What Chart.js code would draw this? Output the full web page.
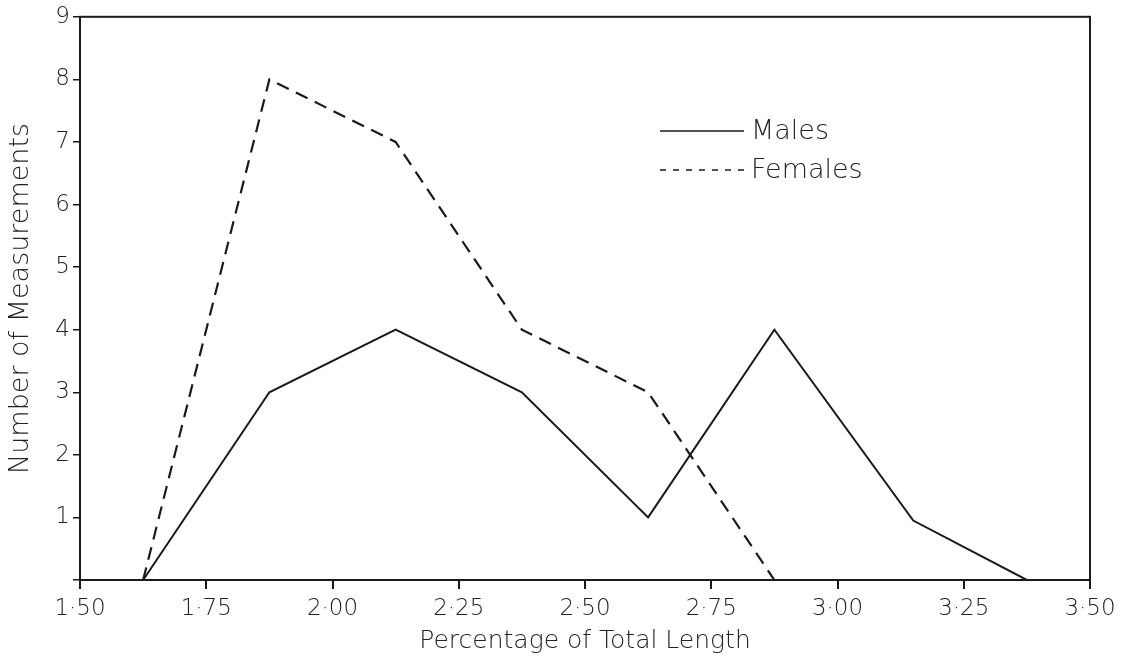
<!DOCTYPE html>
<html>
<head>
<meta charset="utf-8">
<script src="https://cdn.jsdelivr.net/npm/chart.js@4/dist/chart.umd.min.js"></script>
<style>
  html, body { margin: 0; padding: 0; background: #fff; }
  #wrap { width: 1122px; height: 665px; }
</style>
</head>
<body>
<div id="wrap"><canvas id="chart"></canvas></div>
<script>
// values
const maleX = [1.5, 1.625, 1.875, 2.125, 2.375, 2.625, 2.875, 3.15, 3.375];
const maleY = [0, 0, 3, 4, 3, 1, 4, 0.95, 0];
const femaleX = [1.5, 1.625, 1.875, 2.125, 2.375, 2.625, 2.875];
const femaleY = [0, 0, 8, 7, 4, 3, 0];
const xTickLabels = ['1·50', '1·75', '2·00', '2·25', '2·50', '2·75', '3·00', '3·25', '3·50'];
const yTickLabels = ['', '1', '2', '3', '4', '5', '6', '7', '8', '9'];

const ink = '#1a1a1a';
const textInk = '#222';
const fontFamily = '"DejaVu Sans", sans-serif';

function toPoints(xs, ys) {
    return xs.map(function (x, i) { return { x: x, y: ys[i] }; });
}

// box round the plot and the legend drawn inside it
const framePlugin = {
    id: 'frame',
    afterDraw: function (chart) {
        const ctx = chart.ctx;
        const a = chart.chartArea;
        ctx.save();
        ctx.strokeStyle = ink;
        ctx.lineWidth = 2;
        ctx.strokeRect(a.left, a.top, a.right - a.left, a.bottom - a.top);

        const items = [
            { label: 'Males', y: 131, dash: [] },
            { label: 'Females', y: 170, dash: [6, 7] }
        ];
        ctx.font = '200 27px ' + fontFamily;
        ctx.fillStyle = textInk;
        ctx.textBaseline = 'middle';
        items.forEach(function (it) {
            ctx.beginPath();
            ctx.setLineDash(it.dash);
            ctx.lineWidth = 1.6;
            ctx.moveTo(660, it.y);
            ctx.lineTo(744, it.y);
            ctx.stroke();
            ctx.setLineDash([]);
            ctx.fillText(it.label, 751, it.y + 1);
        });
        ctx.restore();
    }
};

new Chart(document.getElementById('chart'), {
    type: 'line',
    data: {
        datasets: [{
            label: 'Males',
            data: toPoints(maleX, maleY),
            borderColor: ink,
            borderWidth: 2,
            pointRadius: 0,
            tension: 0
        }, {
            label: 'Females',
            data: toPoints(femaleX, femaleY),
            borderColor: ink,
            borderWidth: 2.2,
            borderDash: [13, 8],
            pointRadius: 0,
            tension: 0
        }]
    },
    options: {
        responsive: true,
        maintainAspectRatio: false,
        animation: false,
        layout: { padding: { top: 13, right: 32, left: 0, bottom: 0 } },
        plugins: {
            legend: { display: false },
            tooltip: { enabled: false }
        },
        scales: {
            x: {
                type: 'linear',
                min: 1.5,
                max: 3.5,
                afterFit: function (scale) { scale.height = 85; },
                ticks: {
                    stepSize: 0.25,
                    color: textInk,
                    padding: 6,
                    font: { family: fontFamily, size: 23, weight: '200' },
                    callback: function (value) {
                        return xTickLabels[Math.round((value - 1.5) / 0.25)];
                    }
                },
                grid: { drawOnChartArea: false, tickLength: 9, color: ink, lineWidth: 2 },
                border: { color: ink, width: 2 },
                title: {
                    display: true,
                    text: 'Percentage of Total Length',
                    color: textInk,
                    font: { family: fontFamily, size: 25, weight: '200' },
                    padding: { top: 0, bottom: 9 }
                }
            },
            y: {
                min: 0,
                max: 9,
                afterFit: function (scale) { scale.width = 80; },
                ticks: {
                    stepSize: 1,
                    color: textInk,
                    padding: 3,
                    font: { family: fontFamily, size: 23, weight: '200' },
                    callback: function (value) { return yTickLabels[value]; }
                },
                grid: { drawOnChartArea: false, tickLength: 7, color: ink, lineWidth: 1.5 },
                border: { color: ink, width: 2 },
                title: {
                    display: true,
                    text: 'Number of Measurements',
                    color: textInk,
                    font: { family: fontFamily, size: 27, weight: '200' },
                    padding: { top: 5, bottom: 0 }
                }
            }
        }
    },
    plugins: [framePlugin]
});
</script>
</body>
</html>
